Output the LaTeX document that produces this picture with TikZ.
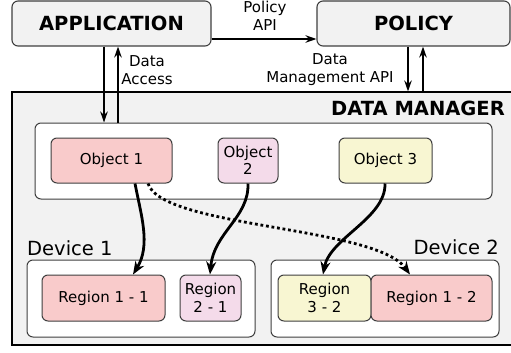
\documentclass[tikz,border=0pt]{standalone}
\usepackage{fontspec}
\setmainfont{DejaVu Sans}
\usetikzlibrary{arrows.meta,calc}

\definecolor{panel}{HTML}{F2F2F2}
\definecolor{edge}{HTML}{3F3F3F}
\definecolor{pinkfill}{HTML}{F9CBCB}
\definecolor{lilacfill}{HTML}{F4DBEA}
\definecolor{yellowfill}{HTML}{F8F6D2}

\tikzset{
  titlebox/.style={draw=edge, line width=1.1pt, fill=panel, rounded corners=6pt,
    inner sep=0pt, font=\fontsize{19.5}{22}\selectfont\bfseries},
  holder/.style={draw=edge, line width=1pt, fill=white, rounded corners=6pt, inner sep=0pt},
  item/.style={draw=edge, line width=1pt, rounded corners=6pt, inner sep=0pt, align=center,
    font=\fontsize{15}{17.5}\selectfont},
  caption/.style={inner sep=0pt, align=center, font=\fontsize{15}{18}\selectfont},
  bigcaption/.style={inner sep=0pt, font=\fontsize{19.5}{22}\selectfont},
  link/.style={line width=1.6pt, -{Stealth[length=11pt,width=7.5pt]}},
  mapping/.style={line width=2.8pt, -{Stealth[length=13pt,width=10pt]}},
  remote/.style={line width=2.8pt, dash pattern=on 2.8pt off 2.8pt,
    -{Stealth[length=13pt,width=10pt]}},
}

\begin{document}
\begin{tikzpicture}[x=1pt,y=-1pt]
\clip (0,0) rectangle (511,353);

% data manager area
\node[draw=black, line width=1.1pt, fill=panel, inner sep=0pt, minimum width=505pt,
  minimum height=253pt] (dm) at (264.5,218.5) {};
\node[bigcaption, font=\fontsize{19.5}{22}\selectfont\bfseries, anchor=base east]
  (dmlabel) at (505,115) {DATA MANAGER};

% top level components
\node[titlebox, minimum width=199pt, minimum height=45pt] (app) at (111.5,23.5) {APPLICATION};
\node[titlebox, minimum width=193pt, minimum height=45pt] (pol) at (413.5,23.5) {POLICY};

% objects
\node[holder, minimum width=457pt, minimum height=76pt] (objs) at (263.5,161) {};
\node[item, fill=pinkfill, minimum width=121pt, minimum height=45pt] (o1) at (111.5,160.5) {Object 1};
\node[item, fill=lilacfill, minimum width=60pt, minimum height=45pt] (o2) at (248,160.5) {Object\\2};
\node[item, fill=yellowfill, minimum width=93pt, minimum height=45pt] (o3) at (385.5,160.5) {Object 3};

% devices
\node[bigcaption, anchor=base west] (d1label) at (27,255) {Device 1};
\node[bigcaption, anchor=base east] (d2label) at (499,254) {Device 2};
\node[holder, minimum width=228pt, minimum height=77pt] (dev1) at (141,298.5) {};
\node[holder, minimum width=228pt, minimum height=77pt] (dev2) at (385,298.5) {};
\node[item, fill=pinkfill, minimum width=123pt, minimum height=46pt] (r11) at (103.5,298) {Region 1 - 1};
\node[item, fill=lilacfill, minimum width=61pt, minimum height=46pt] (r21) at (210.5,298) {Region\\2 - 1};
\node[item, fill=yellowfill, minimum width=93pt, minimum height=46pt] (r32) at (324.5,298) {Region\\3 - 2};
\node[item, fill=pinkfill, minimum width=121pt, minimum height=46pt] (r12) at (431.5,298) {Region 1 - 2};

% interfaces
\coordinate (apiy) at (0,39);
\draw[link] (app.east |- apiy) -- (pol.west |- apiy);
\node[caption] (apilabel) at (265,16) {Policy\\API};

\coordinate (accdown) at (104,0);
\coordinate (accup) at (118,0);
\draw[link] (app.south -| accdown) -- (objs.north -| accdown);
\draw[link] (objs.north -| accup) -- (app.south -| accup);
\node[caption] (acclabel) at (147,70) {Data\\Access};

\coordinate (mgmtdown) at (408,0);
\coordinate (mgmtup) at (423,0);
\draw[link] (pol.south -| mgmtdown) -- (dm.north -| mgmtdown);
\draw[link] (dm.north -| mgmtup) -- (pol.south -| mgmtup);
\node[caption] (mgmtlabel) at (330,70) {Data\\Management API};

% object to region placement
\draw[mapping] ($(o1.south)+(23.5,0)$) .. controls (141,215) and (151,245) .. ($(r11.north)+(29.5,0)$);
\draw[mapping] ($(o2.south)+(0,0)$) .. controls (249,218) and (214,232) .. ($(r21.north)+(-0.5,0)$);
\draw[mapping] ($(o3.south)+(-0.5,0)$) .. controls (386,218) and (330,238) .. ($(r32.north)+(-1.5,0)$);
\draw[remote] ($(o1.south)+(36.5,0)$) .. controls (162,228) and (375,226) .. ($(r12.north)+(-21.5,0)$);
\end{tikzpicture}
\end{document}
